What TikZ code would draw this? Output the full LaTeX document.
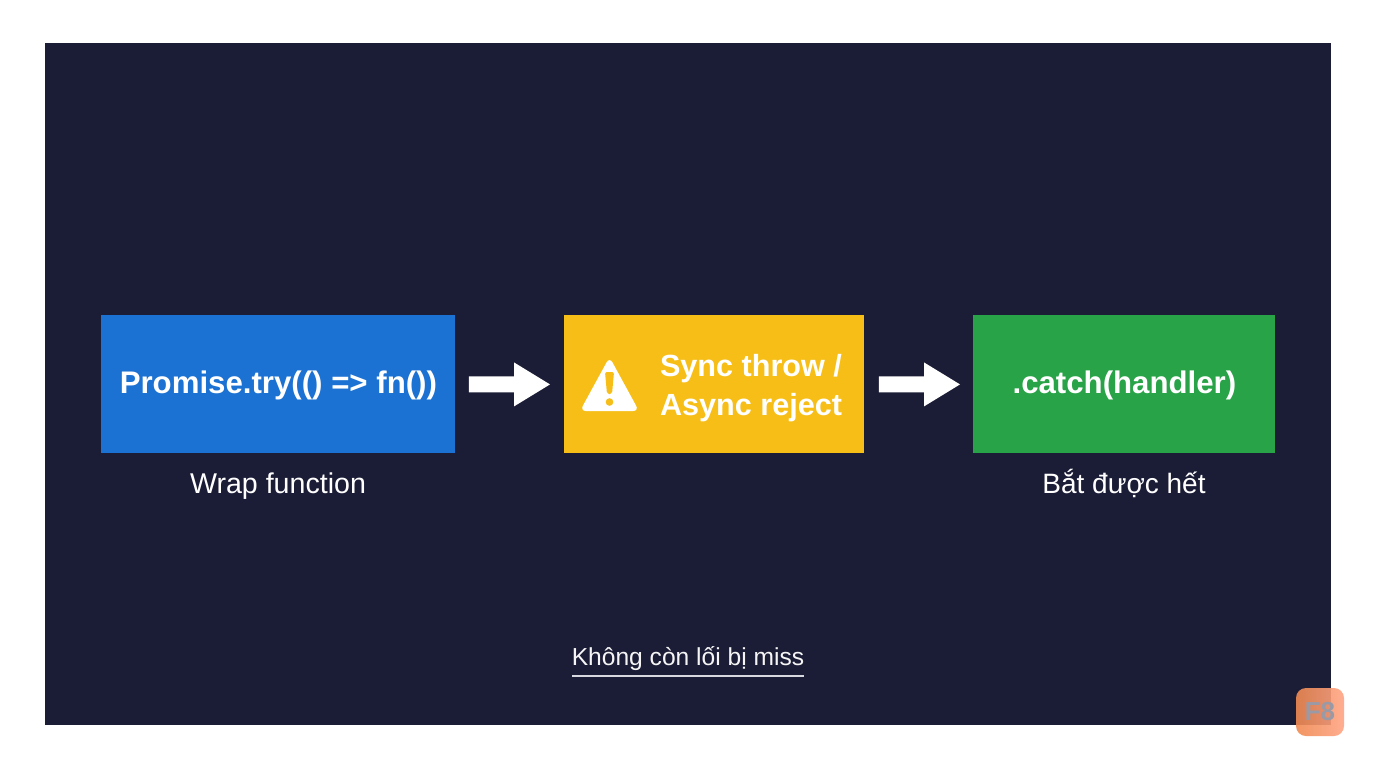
\documentclass[tikz,border=0pt]{standalone}
\usepackage{fontspec}
\setmainfont{Liberation Sans}
\usetikzlibrary{calc}
\definecolor{bgdark}{HTML}{1B1C36}
\definecolor{boxblue}{HTML}{1C72D2}
\definecolor{boxyellow}{HTML}{F6BE17}
\definecolor{boxgreen}{HTML}{28A347}
\definecolor{logoA}{HTML}{F08A52}
\definecolor{logoB}{HTML}{FFA585}
\definecolor{logotext}{HTML}{9A9AA6}
\definecolor{linegray}{HTML}{D8D8E0}
\tikzset{
  box/.style={draw=none, minimum height=69pt, inner sep=0pt},
  boxtext/.style={text=white, font=\fontsize{15.6}{19.5}\selectfont\bfseries},
  caption/.style={text=white, font=\fontsize{14.3}{17}\selectfont, inner sep=0pt},
  fatarrow/.style={fill=white, draw=none},
}
\begin{document}
\begin{tikzpicture}[x=0.5pt,y=-0.5pt]
\useasboundingbox (0,0) rectangle (1376,768);
\fill[white] (0,0) rectangle (1376,768);
\fill[bgdark] (45,43) rectangle (1331,725);

% boxes
\node[box, fill=boxblue, minimum width=177pt, anchor=north west] (b1) at (101,315) {};
\node[box, fill=boxyellow, minimum width=150pt, anchor=north west] (b2) at (564,315) {};
\node[box, fill=boxgreen, minimum width=151pt, anchor=north west] (b3) at (973,315) {};

\node[boxtext] (t1) at ($(b1.center)+(0,1)$) {Promise.try(() => fn())};
\node[boxtext, anchor=west, align=left, font=\fontsize{15.3}{19.5}\selectfont\bfseries] (t2) at (653,388) {Sync throw /\\Async reject};
\node[boxtext] (t3) at ($(b3.center)+(0,1)$) {.catch(handler)};

% warning icon
\fill[white, rounded corners=3pt] (609.5,357) -- (639,411) -- (580,411) -- cycle;
\fill[boxyellow, rounded corners=1pt] (605,372) -- (614,372) -- (612,394) -- (607,394) -- cycle;
\fill[boxyellow] (609.5,402) circle (3.8);

% arrows
\coordinate (a1s) at ($(b1.east)+(13,0)$);
\coordinate (a1e) at ($(b2.west)+(-14,0)$);
\fill[fatarrow] ($(a1s)+(0,-8)$) -- ($(a1e)+(-36,-8)$) -- ($(a1e)+(-36,-22)$) -- (a1e) -- ($(a1e)+(-36,22)$) -- ($(a1e)+(-36,8)$) -- ($(a1s)+(0,8)$) -- cycle;
\coordinate (a2s) at ($(b2.east)+(14,0)$);
\coordinate (a2e) at ($(b3.west)+(-13,0)$);
\fill[fatarrow] ($(a2s)+(0,-8)$) -- ($(a2e)+(-36,-8)$) -- ($(a2e)+(-36,-22)$) -- (a2e) -- ($(a2e)+(-36,22)$) -- ($(a2e)+(-36,8)$) -- ($(a2s)+(0,8)$) -- cycle;

% captions
\node[caption, anchor=base] (c1) at (278,493) {Wrap function};
\node[caption, anchor=base, font=\fontsize{14}{17}\selectfont] (c3) at (1124,493) {Bắt được hết};
\node[caption, anchor=base, text=white!92!gray, font=\fontsize{12.3}{15}\selectfont] (foot) at (688,665) {Không còn lối bị miss};
\draw[linegray, line width=1pt] (572,676) coordinate (ul1) -- (804,676) coordinate (ul2);

% logo
\node[draw=none, rounded corners=5pt, minimum width=24pt, minimum height=24pt, inner sep=0pt,
  left color=logoA, right color=logoB, opacity=0.9, text opacity=1, text=logotext,
  font=\fontsize{13}{13}\selectfont\bfseries] (logo) at (1320,712) {F8};
\end{tikzpicture}
\end{document}
